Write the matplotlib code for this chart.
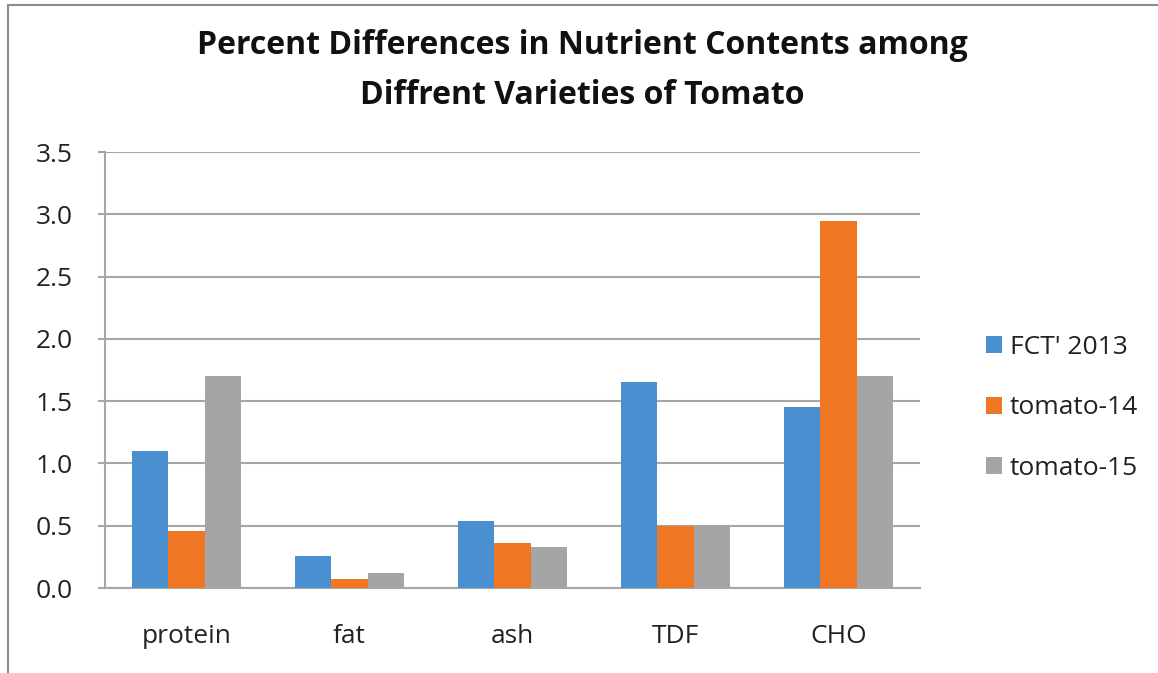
import numpy as np
import matplotlib.pyplot as plt
from matplotlib.patches import Rectangle

categories = ['protein', 'fat', 'ash', 'TDF', 'CHO']
series_names = ["FCT' 2013", 'tomato-14', 'tomato-15']
fct_2013 = [1.10, 0.26, 0.54, 1.65, 1.45]
tomato_14 = [0.46, 0.07, 0.36, 0.50, 2.95]
tomato_15 = [1.70, 0.12, 0.33, 0.50, 1.70]
colors = ['#4a90d0', '#ef7622', '#a5a5a5']

plt.rcParams['font.family'] = ['Open Sans', 'DejaVu Sans']

fig = plt.figure(figsize=(11.58, 6.73), dpi=100)
ax = fig.add_axes([105 / 1158, 1 - 588 / 673, 815 / 1158, 436 / 673])

x = np.arange(len(categories))
w = 1 / 4.5
for i, (vals, name) in enumerate(zip([fct_2013, tomato_14, tomato_15], series_names)):
    ax.bar(x + (i - 1) * w, vals, width=w, color=colors[i], label=name, zorder=3)

ax.set_xlim(-0.5, len(categories) - 0.5)
ax.set_ylim(0, 3.5)
ax.set_yticks(np.arange(0, 3.51, 0.5))
ax.set_yticklabels([f'{v:.1f}' for v in np.arange(0, 3.51, 0.5)])
ax.set_xticks(x)
ax.set_xticklabels(categories)
ax.yaxis.grid(True, color='#a6a6a6', linewidth=1.5, zorder=0)
for s in ['top', 'right']:
    ax.spines[s].set_visible(False)
ax.spines['left'].set_color('#a6a6a6')
ax.spines['bottom'].set_color('#a6a6a6')
ax.spines['left'].set_linewidth(1.5)
ax.spines['bottom'].set_linewidth(1.5)
ax.tick_params(axis='y', length=5, color='#a6a6a6', width=1.5, labelsize=19, pad=18, labelcolor='#222222')
ax.tick_params(axis='x', length=0, labelsize=19, pad=26, labelcolor='#222222')

fig.text(0.503, 1 - 45 / 673, 'Percent Differences in Nutrient Contents among',
         ha='center', va='center', fontsize=23, fontweight='bold', color='#111111')
fig.text(0.503, 1 - 95 / 673, 'Diffrent Varieties of Tomato',
         ha='center', va='center', fontsize=23, fontweight='bold', color='#111111')

leg = ax.legend(loc='center left', bbox_to_anchor=(962 / 1158, 1 - 408 / 673),
                bbox_transform=fig.transFigure, frameon=False, fontsize=19,
                handlelength=0.6, handleheight=0.6, handletextpad=0.3, labelspacing=1.35)
for t in leg.get_texts():
    t.set_color('#222222')

fig.patches.append(Rectangle((8 / 1158, -0.1), 1.2, 1 - 5 / 673 + 0.1, transform=fig.transFigure,
                             fill=False, edgecolor='#8c8c8c', linewidth=1.5))

fig.savefig('out.png', dpi=100)
